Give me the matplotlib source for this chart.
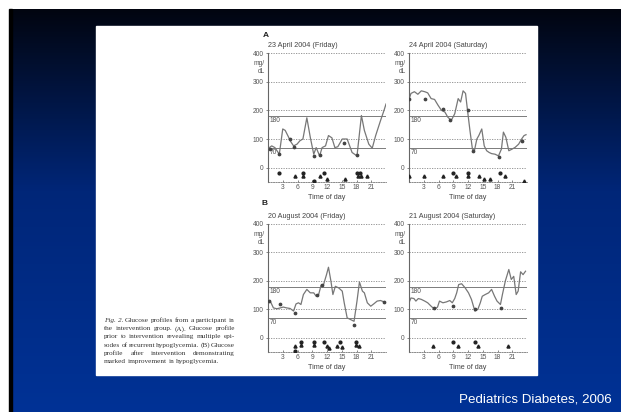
import numpy as np
import matplotlib.pyplot as plt
from matplotlib.patches import Rectangle

plt.rcParams['font.family'] = ['Liberation Sans', 'DejaVu Sans']

# ---- data: sensor glucose traces (hour, mg/dL) ----
a1_hour = [0, 0.27, 0.75, 1.4, 2.3, 3.0, 3.5, 4.2, 4.5, 5.2, 5.9, 6.5, 7.1, 7.9, 8.6, 9.3, 9.8,
           10.5, 11.0, 11.7, 12.3, 13.0, 13.6, 14.2, 15.1, 16.1, 17.1, 18.1, 19.0, 19.6, 20.5,
           21.2, 21.9, 22.9, 23.6, 24.0]
a1_gluc = [65, 70, 76, 70, 47, 135, 130, 106, 94, 76, 82, 94, 100, 174, 106, 47, 70,
           41, 70, 76, 112, 104, 70, 73, 100, 100, 53, 41, 182, 130, 82,
           68, 112, 165, 200, 222]

a2_hour = [0, 0.4, 1.1, 1.8, 2.5, 3.2, 3.8, 4.5, 5.2, 5.9, 6.6, 7.3, 7.9, 8.6, 9.3, 10.0, 10.5,
           11.0, 11.5, 11.9, 12.4, 12.9, 13.3, 13.8, 14.2, 14.8, 15.3, 15.8, 16.3, 16.8, 17.5,
           18.2, 18.8, 19.2, 19.7, 20.3, 21.0, 21.6, 22.3, 22.9, 23.4, 23.8]
a2_gluc = [238, 259, 265, 256, 268, 265, 261, 241, 238, 218, 200, 194, 176, 165, 188, 241, 229,
           268, 259, 200, 129, 65, 59, 100, 112, 135, 76, 59, 53, 49, 47,
           41, 65, 124, 106, 59, 65, 71, 82, 100, 112, 115]

b1_hour = [0, 0.4, 1.1, 1.8, 2.5, 3.1, 3.8, 4.5, 5.2, 5.7, 6.2, 6.7, 7.2, 7.9, 8.6, 9.3, 9.8,
           10.3, 10.8, 11.3, 11.9, 12.3, 12.8, 13.2, 13.7, 14.4, 15.1, 15.5, 16.1, 16.8, 17.5,
           18.1, 18.6, 19.2, 19.6, 20.2, 20.9, 21.5, 22.2, 22.9, 23.6, 24.0]
b1_gluc = [129, 131, 105, 102, 105, 108, 105, 103, 94, 119, 123, 117, 152, 170, 158, 158, 146,
           152, 185, 187, 222, 248, 199, 152, 181, 175, 164, 123, 70, 64, 58,
           129, 196, 164, 158, 123, 111, 119, 129, 131, 126, 123]

b2_hour = [0, 0.4, 1.0, 1.4, 1.9, 2.5, 3.2, 3.8, 4.5, 5.2, 5.8, 6.2, 6.9, 7.6, 8.3, 8.8, 9.3,
           9.7, 10.1, 10.7, 11.4, 12.1, 12.7, 13.4, 14.0, 14.5, 14.9, 15.5, 16.2, 16.8, 17.4,
           17.9, 18.6, 19.0, 19.6, 20.3, 20.8, 21.3, 21.8, 22.2, 22.7, 23.2, 23.7]
b2_gluc = [123, 140, 138, 129, 138, 135, 129, 123, 111, 100, 108, 129, 123, 126, 131, 123, 138,
           158, 187, 190, 176, 158, 135, 94, 100, 123, 146, 152, 158, 170, 146,
           129, 117, 152, 200, 240, 205, 216, 152, 164, 232, 222, 234]

# fingerstick readings
a1_fs_x = [0.5, 2.3, 4.5, 5.2, 9.4, 10.6, 15.4, 18.1]
a1_fs_y = [65, 47, 100, 73, 41, 44, 85, 44]
a2_fs_x = [0.0, 3.2, 6.9, 8.4, 11.9, 13.0, 18.4, 22.9]
a2_fs_y = [238, 241, 206, 167, 200, 59, 38, 94]
b1_fs_x = [0.3, 2.5, 5.5, 10.0, 11.0, 17.5, 23.6]
b1_fs_y = [129, 117, 88, 152, 187, 44, 126]
b2_fs_x = [5.1, 9.0, 13.4, 18.8]
b2_fs_y = [103, 111, 100, 103]

# event symbols below zero
a1_ci_x = [2.3, 7.2, 9.3, 11.4, 18.1, 18.7]
a1_ci_y = [-20, -18, -48, -18, -18, -18]
a1_tr_x = [5.5, 7.2, 10.6, 12.0, 15.7, 18.3, 19.0, 20.2]
a1_tr_y = [-30, -28, -30, -38, -38, -30, -30, -30]
a2_ci_x = [9.0, 11.9, 18.6]
a2_ci_y = [-20, -18, -20]
a2_tr_x = [0.0, 3.0, 6.9, 9.6, 11.9, 14.2, 15.3, 16.5, 19.5, 23.4]
a2_tr_y = [-30, -30, -30, -30, -28, -30, -38, -38, -30, -48]
b1_ci_x = [5.5, 6.8, 9.3, 11.4, 14.7, 17.8]
b1_ci_y = [-48, -15, -15, -15, -15, -15]
b1_tr_x = [5.4, 6.8, 9.3, 12.1, 12.5, 14.0, 15.0, 17.8, 18.5]
b1_tr_y = [-28, -25, -25, -28, -35, -28, -32, -25, -28]
b2_ci_x = [9.0, 13.4]
b2_ci_y = [-15, -15]
b2_tr_x = [4.9, 9.9, 14.1, 20.1]
b2_tr_y = [-28, -28, -28, -28]

titles = ['23 April 2004 (Friday)', '24 April 2004 (Saturday)',
          '20 August 2004 (Friday)', '21 August 2004 (Saturday)']
xticks = [3, 6, 9, 12, 15, 18, 21]
yticks = [0, 100, 200, 300, 400]
caption = ['Fig. 2. Glucose profiles from a participant in',
           'the intervention group. (A). Glucose profile',
           'prior to intervention revealing multiple epi-',
           'sodes of recurrent hypoglycemia. (B) Glucose',
           'profile after intervention demonstrating',
           'marked improvement in hypoglycemia.']

W, H = 621, 412
fig = plt.figure(figsize=(W / 100, H / 100), dpi=100)

# slide background
bg = fig.add_axes([0, 0, 1, 1])
bg.set_xlim(0, W)
bg.set_ylim(H, 0)
bg.axis('off')
t = np.linspace(0, 1, 300)[:, None]
top = np.array([2, 5, 16]) / 255
mid = np.array([0, 38, 120]) / 255
bot = np.array([0, 50, 150]) / 255
s = np.clip(t / 0.45, 0, 1)
grad = np.where(t < 0.45, top + (mid - top) * s, mid + (bot - mid) * np.clip((t - 0.45) / 0.55, 0, 1))
grad = np.repeat(grad[:, None, :], 2, axis=1)
bg.imshow(grad, extent=[10, W, H, 9], aspect='auto', zorder=0)
bg.add_patch(Rectangle((9, 9), 2.5, H, color='black', zorder=1))
bg.add_patch(Rectangle((96, 26), 441, 349, color='white', zorder=2))

bg.text(263, 35, 'A', fontsize=6, fontweight='bold', color='#222222', va='center', zorder=3)
bg.text(262, 203, 'B', fontsize=6, fontweight='bold', color='#222222', va='center', zorder=3)
bg.text(612, 400, 'Pediatrics Diabetes, 2006', fontsize=9.6, color='white', ha='right', va='center', zorder=3)

# justified caption (serif), words placed one by one
renderer = fig.canvas.get_renderer()
cap_left, cap_right = 104, 235
inv = bg.transData.inverted()
for i, line in enumerate(caption):
    words = line.split(' ')
    y = 322 + i * 8.2
    arts = [bg.text(0, y, w, fontsize=5.2, color='#333333', va='baseline',
                    family=['Liberation Serif'], zorder=3,
                    style='italic' if (i == 0 and j < 2) else 'normal')
            for j, w in enumerate(words)]
    widths = []
    for a in arts:
        bb = a.get_window_extent(renderer)
        widths.append(inv.transform((bb.x1, bb.y0))[0] - inv.transform((bb.x0, bb.y0))[0])
    if i < len(caption) - 1 and len(words) > 1:
        gap = (cap_right - cap_left - sum(widths)) / (len(words) - 1)
    else:
        gap = 1.8
    x = cap_left
    for a, w in zip(arts, widths):
        a.set_x(x)
        x += w + gap

panels = [
    (a1_hour, a1_gluc, a1_fs_x, a1_fs_y, a1_ci_x, a1_ci_y, a1_tr_x, a1_tr_y, 268, 53, 182),
    (a2_hour, a2_gluc, a2_fs_x, a2_fs_y, a2_ci_x, a2_ci_y, a2_tr_x, a2_tr_y, 409, 53, 182),
    (b1_hour, b1_gluc, b1_fs_x, b1_fs_y, b1_ci_x, b1_ci_y, b1_tr_x, b1_tr_y, 268, 224, 352),
    (b2_hour, b2_gluc, b2_fs_x, b2_fs_y, b2_ci_x, b2_ci_y, b2_tr_x, b2_tr_y, 409, 224, 352),
]

for k, (hx, gy, fx, fy, cx, cy, tx, ty, left, ytop, ybot) in enumerate(panels):
    ax = fig.add_axes([left / W, 1 - ybot / H, 118 / W, (ybot - ytop) / H])
    ax.set_xlim(0, 24)
    ax.set_ylim(-50, 400)
    ax.patch.set_alpha(0)
    for y in yticks:
        ax.axhline(y, color='#888888', lw=0.6, ls=(0, (1.5, 1.5)), zorder=1)
    ax.axhline(180, color='#666666', lw=0.6, zorder=1)
    ax.axhline(70, color='#666666', lw=0.6, zorder=1)
    ax.text(0.3, 176, '180', fontsize=4.8, color='#555555', va='top')
    ax.text(0.3, 66, '70', fontsize=4.8, color='#555555', va='top')
    ax.plot(hx, gy, color='#777777', lw=0.9, zorder=2)
    ax.plot(fx, fy, 'o', ms=1.7, color='#444444', zorder=3)
    ax.plot(cx, cy, 'o', ms=2, color='#222222', zorder=3)
    ax.plot(tx, ty, '^', ms=2.2, color='#222222', zorder=3)
    for sp in ['top', 'right']:
        ax.spines[sp].set_visible(False)
    ax.spines['left'].set_color('#666666')
    ax.spines['left'].set_linewidth(0.8)
    ax.spines['bottom'].set_color('#777777')
    ax.spines['bottom'].set_linewidth(0.6)
    ax.spines['bottom'].set_linestyle((0, (1.5, 1.5)))
    ax.set_xticks(xticks)
    ax.set_yticks(yticks)
    ax.tick_params(axis='both', labelsize=4.8, colors='#555555', length=1.5, width=0.5, pad=1.5)
    ax.tick_params(axis='x', direction='in')
    ax.text(-0.6, 362, 'mg/', fontsize=4.8, color='#555555', ha='right', va='center')
    ax.text(-0.6, 336, 'dL', fontsize=4.8, color='#555555', ha='right', va='center')
    ax.set_title(titles[k], fontsize=5.2, color='#444444', loc='left', pad=4)
    ax.set_xlabel('Time of day', fontsize=5.2, color='#444444', labelpad=2)

fig.savefig('out.png', dpi=100)
